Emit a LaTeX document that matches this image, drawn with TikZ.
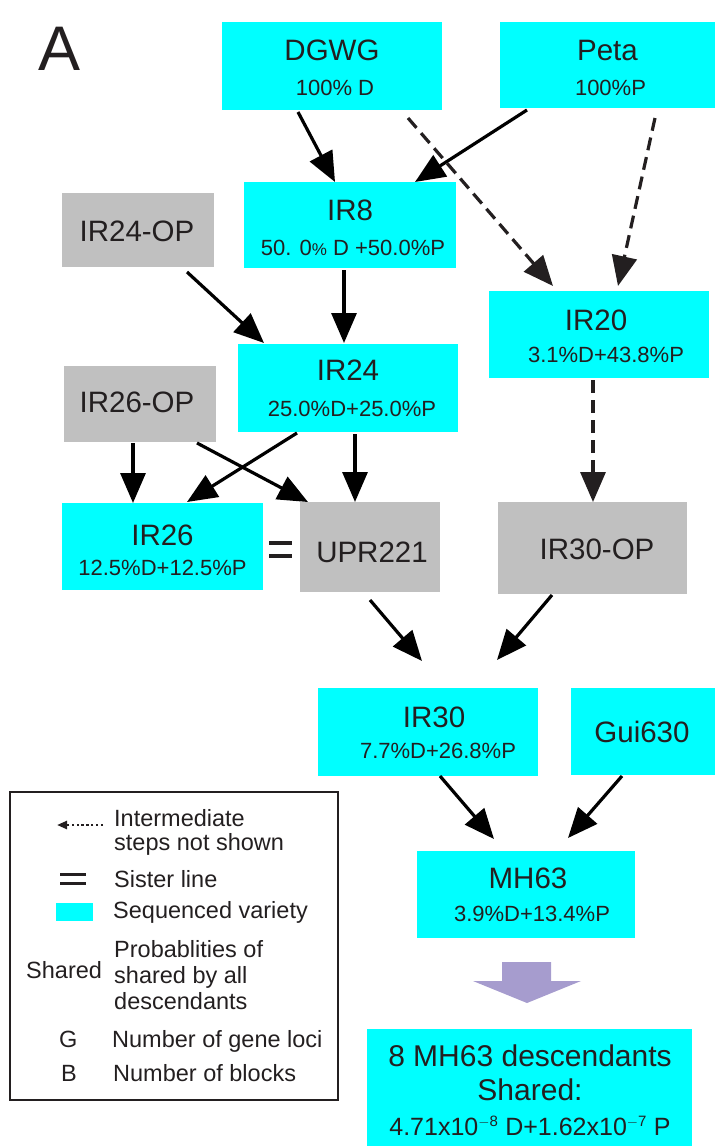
\documentclass[tikz,border=0pt]{standalone}
\usepackage{fontspec}
\setmainfont{Liberation Sans}
\usetikzlibrary{arrows.meta,calc}
\definecolor{cy}{RGB}{0,255,255}
\definecolor{gr}{RGB}{192,192,192}
\definecolor{ink}{RGB}{35,31,32}
\definecolor{lav}{RGB}{166,156,206}
\begin{document}
\begin{tikzpicture}[x=1pt,y=-1pt,
  cbox/.style={fill=cy, inner sep=0pt, outer sep=0pt},
  gbox/.style={fill=gr, inner sep=0pt, outer sep=0pt},
  ttl/.style={font=\fontsize{29.5}{32}\selectfont, text=ink, inner sep=0pt},
  subt/.style={font=\fontsize{22}{26}\selectfont, text=ink, inner sep=0pt},
  leg/.style={font=\fontsize{23.5}{26}\selectfont, text=ink, inner sep=0pt, anchor=base west},
  arr/.style={line width=3.2pt, draw=black, -{Triangle[length=30pt,width=25pt]}},
  darr/.style={arr, draw=ink, dash pattern=on 13pt off 7pt}]
\useasboundingbox (0,0) rectangle (715,1146);

% panel label
\node[font=\fontsize{63}{70}\selectfont, text=ink, anchor=base west, inner sep=0pt] (lbl) at (38,70) {A};

% boxes
\node[cbox, minimum width=220pt, minimum height=88pt] (dgwg) at (332,66) {};
\node[cbox, minimum width=215pt, minimum height=86pt] (peta) at (607.5,65) {};
\node[cbox, minimum width=212pt, minimum height=86pt] (ir8) at (350,225) {};
\node[gbox, minimum width=152pt, minimum height=74pt] (ir24op) at (138,230) {};
\node[cbox, minimum width=220pt, minimum height=87pt] (ir20) at (599,334.5) {};
\node[cbox, minimum width=220pt, minimum height=88pt] (ir24) at (348,388) {};
\node[gbox, minimum width=152pt, minimum height=76pt] (ir26op) at (140,404) {};
\node[cbox, minimum width=201pt, minimum height=87pt] (ir26) at (162.5,546.5) {};
\node[gbox, minimum width=140pt, minimum height=90pt] (upr) at (370,547) {};
\node[gbox, minimum width=189pt, minimum height=92pt] (ir30op) at (592.5,548) {};
\node[cbox, minimum width=220pt, minimum height=88pt] (ir30) at (428,732) {};
\node[cbox, minimum width=144pt, minimum height=87pt] (gui) at (643,731.5) {};
\node[cbox, minimum width=218pt, minimum height=87pt] (mh63) at (526,894.5) {};
\node[cbox, minimum width=325pt, minimum height=117pt] (fin) at (529.5,1087.5) {};

% box texts
\node[ttl] (dgwgA) at ([yshift=-28pt]dgwg.north) {DGWG};
\node[subt] (dgwgB) at ([xshift=3pt,yshift=-66pt]dgwg.north) {100\% D};
\node[ttl] (petaA) at ([yshift=-28pt]peta.north) {Peta};
\node[subt] (petaB) at ([xshift=3pt,yshift=-66pt]peta.north) {100\%P};
\node[ttl] (ir8A) at ([yshift=-28pt]ir8.north) {IR8};
\node[subt] (ir8B) at ([xshift=3pt,yshift=-66pt]ir8.north) {50. 0{\fontsize{17}{20}\selectfont\%} D +50.0\%P};
\node[ttl] (ir24opA) at (137,231) {IR24-OP};
\node[ttl] (ir20A) at ([xshift=-3pt,yshift=-29pt]ir20.north) {IR20};
\node[subt] (ir20B) at ([xshift=7pt,yshift=-64pt]ir20.north) {3.1\%D+43.8\%P};
\node[ttl] (ir24A) at ([yshift=-26pt]ir24.north) {IR24};
\node[subt] (ir24B) at ([xshift=4pt,yshift=-65pt]ir24.north) {25.0\%D+25.0\%P};
\node[ttl] (ir26opA) at (137,402) {IR26-OP};
\node[ttl] (ir26A) at ([yshift=-32pt]ir26.north) {IR26};
\node[subt] (ir26B) at ([yshift=-65pt]ir26.north) {12.5\%D+12.5\%P};
\node[ttl] (uprA) at (372,552) {UPR221};
\node[ttl] (ir30opA) at (597,549) {IR30-OP};
\node[ttl] (ir30A) at ([xshift=6pt,yshift=-29pt]ir30.north) {IR30};
\node[subt] (ir30B) at ([xshift=10pt,yshift=-63pt]ir30.north) {7.7\%D+26.8\%P};
\node[ttl] (guiA) at (642,732) {Gui630};
\node[ttl] (mh63A) at ([xshift=2pt,yshift=-27pt]mh63.north) {MH63};
\node[subt] (mh63B) at ([xshift=6pt,yshift=-63pt]mh63.north) {3.9\%D+13.4\%P};
\node[ttl, font=\fontsize{30}{34}\selectfont] (finA) at (530,1056) {8 MH63 descendants};
\node[ttl, font=\fontsize{30}{34}\selectfont] (finB) at (530,1090) {Shared:};
\node[subt, font=\fontsize{25}{28}\selectfont] (finC) at (530,1126) {4.71x10\textsuperscript{\fontsize{15}{16}\selectfont $-$8} D+1.62x10\textsuperscript{\fontsize{15}{16}\selectfont $-$7} P};

% sister-line sign
\draw[ink, line width=4.5pt] (269,543) -- (292,543) (269,556) -- (292,556);

% connectors
\draw[arr] ([xshift=-34pt,yshift=-2pt]dgwg.south) -- ([xshift=-15pt]ir8.north);
\draw[arr] ([xshift=-80.5pt,yshift=-2pt]peta.south) -- ([xshift=65pt]ir8.north);
\draw[darr] ([xshift=76pt,yshift=-8pt]dgwg.south) -- ([xshift=-46pt,yshift=5pt]ir20.north);
\draw[darr] ([xshift=47.5pt,yshift=-10pt]peta.south) -- ([xshift=19pt,yshift=5pt]ir20.north);
\draw[arr] ([xshift=49pt,yshift=-5pt]ir24op.south) -- ([xshift=-84pt,yshift=1pt]ir24.north);
\draw[arr] ([xshift=-6pt,yshift=-2pt]ir8.south) -- ([xshift=-4pt,yshift=1pt]ir24.north);
\draw[arr] ([xshift=-51pt,yshift=-1pt]ir24.south) -- ([xshift=24.5pt,yshift=1pt]ir26.north);
\draw[arr] ([xshift=-7pt,yshift=-1pt]ir26op.south) -- ([xshift=-29.5pt]ir26.north);
\draw[arr] ([xshift=57pt,yshift=-1pt]ir26op.south) -- ([xshift=-62pt]upr.north);
\draw[arr] ([xshift=7pt,yshift=-2pt]ir24.south) -- ([xshift=-15pt]upr.north);
\draw[darr] ([xshift=-6pt,yshift=-2pt]ir20.south) -- ([xshift=0.5pt]ir30op.north);
\draw[arr] ([yshift=-8pt]upr.south) -- ([xshift=-6pt,yshift=27pt]ir30.north);
\draw[arr] ([xshift=-40.5pt,yshift=-1pt]ir30op.south) -- ([xshift=69pt,yshift=28pt]ir30.north);
\draw[arr] ([xshift=12pt]ir30.south) -- ([xshift=-32pt,yshift=12pt]mh63.north);
\draw[arr] ([xshift=-21pt,yshift=-1pt]gui.south) -- ([xshift=42pt,yshift=13pt]mh63.north);

% big down arrow
\fill[lav] (502,962) -- (551,962) -- (551,981) -- (581,981) -- (527,1003) -- (473,981) -- (502,981) -- cycle;

% legend
\node[draw=ink, line width=1.5pt, minimum width=328pt, minimum height=308pt, inner sep=0pt] (legend) at (174,946) {};
\coordinate (dotS) at (103,825);
\coordinate (dotE) at (57,825);
\draw[ink, line width=2.4pt, dash pattern=on 2.4pt off 2.4pt, -{Triangle[length=10pt,width=8pt]}] (dotS) -- (dotE);
\node[leg] (l1a) at (114,826) {Intermediate};
\node[leg] (l1b) at (114,850) {steps not shown};
\draw[ink, line width=3pt] (60,874) -- (86,874) (60,883) -- (86,883);
\node[leg] (l2) at (114,887) {Sister line};
\fill[cy] (56,903) rectangle (93,921);
\node[leg] (l3) at (113,918) {Sequenced variety};
\node[leg] (l4a) at (114,957) {Probablities of};
\node[leg] (l4b) at (114,983) {shared by all};
\node[leg] (l4c) at (114,1009) {descendants};
\node[leg] (l4s) at (26,978) {Shared};
\node[leg] (l5g) at (59,1047) {G};
\node[leg] (l5) at (112,1047) {Number of gene loci};
\node[leg] (l6b) at (61,1081) {B};
\node[leg] (l6) at (113,1081) {Number of blocks};
\end{tikzpicture}
\end{document}
